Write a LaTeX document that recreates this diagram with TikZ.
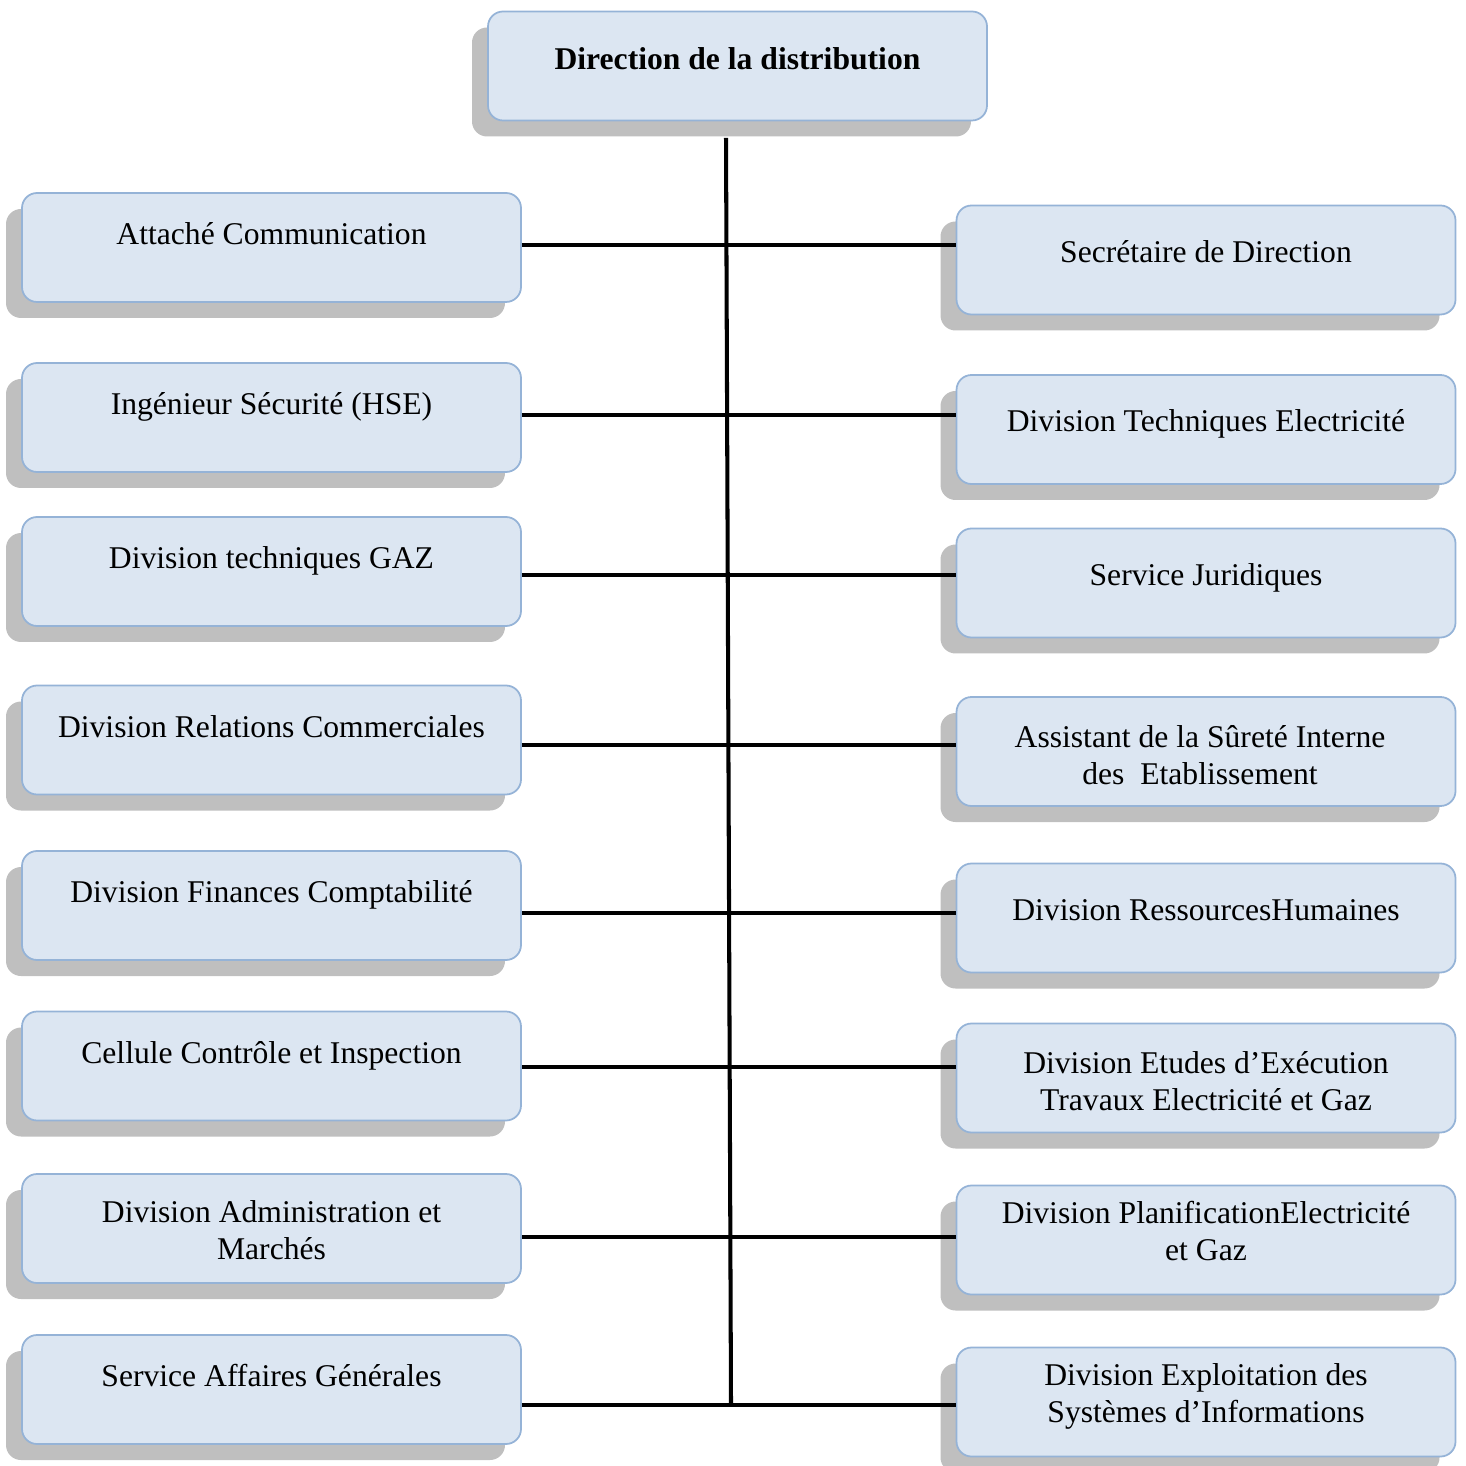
\documentclass[tikz,border=0pt]{standalone}
\usepackage{fontspec}
\setmainfont{Liberation Serif}
\usetikzlibrary{shadows}

\definecolor{boxfill}{RGB}{220,230,242}
\definecolor{boxline}{RGB}{149,179,215}
\definecolor{shade}{RGB}{191,191,191}

\begin{document}
\begin{tikzpicture}[x=0.1mm,y=-0.1mm,
    orgbox/.style={draw=boxline, fill=boxfill, line width=0.5pt, rounded corners=1.5mm,
      minimum width=49.9mm, minimum height=10.9mm, inner sep=0pt, align=center,
      font=\fontsize{9}{10.5}\selectfont, text height=6pt,
      drop shadow={shadow xshift=-1.6mm, shadow yshift=-1.6mm, fill=shade, opacity=1}},
    leftbox/.style={orgbox, text depth=7.7pt},
    rightbox/.style={orgbox, text depth=4.8pt},
    twolines/.style={orgbox, text height=20.5pt},
    link/.style={line width=1.15pt}]
  \useasboundingbox (0,0) rectangle (1465,1466);

  % Common positions of both columns
  \def\lx{271.5}   % left column
  \def\rx{1206}    % right column

  % ---- Head ----
  \node[orgbox, text depth=4pt, font=\fontsize{9}{10.5}\selectfont\bfseries] (dir) at (737.5,66)
    {Direction de la distribution};

  % ---- Left column ----
  \node[leftbox] (L1) at (\lx,247.5) {Attaché Communication};
  \node[leftbox] (L2) at (\lx,417.5) {Ingénieur Sécurité (HSE)};
  \node[leftbox] (L3) at (\lx,571.5) {Division techniques GAZ};
  \node[leftbox] (L4) at (\lx,740) {Division Relations Commerciales};
  \node[leftbox] (L5) at (\lx,905.5) {Division Finances Comptabilité};
  \node[leftbox] (L6) at (\lx,1066) {Cellule Contrôle et Inspection};
  \node[twolines, text depth=3pt] (L7) at (\lx,1228.5) {Division Administration et\\Marchés};
  \node[leftbox] (L8) at (\lx,1389.5) {Service Affaires Générales};

  % ---- Right column ----
  \node[rightbox] (R1) at (\rx,260) {Secrétaire de Direction};
  \node[rightbox] (R2) at (\rx,429.5) {Division Techniques Electricité};
  \node[rightbox] (R3) at (\rx,583) {Service Juridiques};
  \node[twolines, text depth=1.7pt] (R4) at (\rx,751.5)
    {\hspace*{-1.2mm}Assistant de la Sûreté Interne\\\hspace*{-1.2mm}des\ \ Etablissement};
  \node[rightbox] (R5) at (\rx,918) {Division RessourcesHumaines};
  \node[twolines, text depth=2pt] (R6) at (\rx,1078) {Division Etudes d’Exécution\\Travaux Electricité et Gaz};
  \node[twolines, text depth=8.8pt] (R7) at (\rx,1240) {Division PlanificationElectricité\\et Gaz};
  \node[twolines, text depth=8.8pt] (R8) at (\rx,1402) {Division Exploitation des\\Systèmes d’Informations};

  % Trunk
  \coordinate (top) at (726,138);
  \coordinate (r1) at (0,245);
  \coordinate (r2) at (0,415);
  \coordinate (r3) at (0,575);
  \coordinate (r4) at (0,745);
  \coordinate (r5) at (0,913);
  \coordinate (r6) at (0,1067);
  \coordinate (r7) at (0,1237);
  \coordinate (r8) at (0,1405);
  \draw[link] (top) -- (731,1405) coordinate (bottom);

  % Branches
  \draw[link] (r1 -| L1.east) -- (r1 -| R1.west);
  \draw[link] (r2 -| L2.east) -- (r2 -| R2.west);
  \draw[link] (r3 -| L3.east) -- (r3 -| R3.west);
  \draw[link] (r4 -| L4.east) -- (r4 -| R4.west);
  \draw[link] (r5 -| L5.east) -- (r5 -| R5.west);
  \draw[link] (r6 -| L6.east) -- (r6 -| R6.west);
  \draw[link] (r7 -| L7.east) -- (r7 -| R7.west);
  \draw[link] (r8 -| L8.east) -- (r8 -| R8.west);
\end{tikzpicture}
\end{document}
